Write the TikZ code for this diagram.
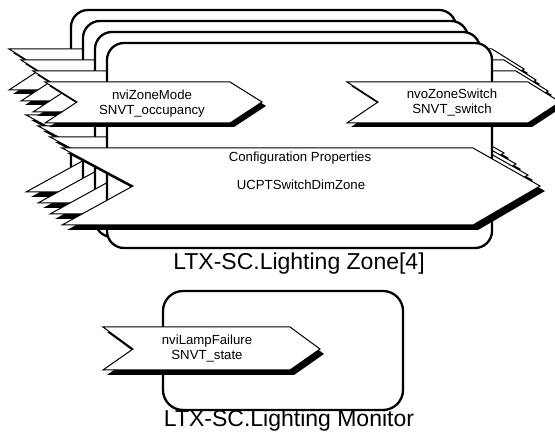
\documentclass[tikz,border=0pt]{standalone}
\usepackage{fontspec}
\setmainfont{Liberation Sans}
\begin{document}
\begin{tikzpicture}[x=1pt,y=-1pt,
  zonebox/.style={draw, line width=2.3pt, rounded corners=17pt, fill=white},
  nvshape/.style={draw, line width=1pt, fill=white, line join=miter},
  nvshadow/.style={fill=black},
  nvtext/.style={font=\fontsize{13.2}{14.5}\selectfont, align=center, inner sep=0pt},
  biglabel/.style={font=\fontsize{23}{26}\selectfont, inner sep=0pt}]
\useasboundingbox (0,0) rectangle (555,438);
\clip (0,0) rectangle (555,438);
% stacked zone blocks, back to front
\foreach \k in {3,2,1,0}{
  \begin{scope}[shift={(-12*\k,-11*\k)}]
    \draw[zonebox] (107,43) rectangle (492,248);
    % input
    \fill[nvshadow,shift={(4,4)}] (45,82) -- (230,82) -- (262,102) -- (230,123) -- (45,123) -- (77,102) -- cycle;
    \draw[nvshape] (45,82) -- (230,82) -- (262,102) -- (230,123) -- (45,123) -- (77,102) -- cycle;
    % output
    \fill[nvshadow,shift={(4,4)}] (347,82) -- (528,82) -- (560,102) -- (528,123) -- (347,123) -- (378,102) -- cycle;
    \draw[nvshape] (347,82) -- (528,82) -- (560,102) -- (528,123) -- (347,123) -- (378,102) -- cycle;
    % configuration
    \fill[nvshadow,shift={(5,5)}] (62,148) -- (473,148) -- (540,186) -- (473,225) -- (62,225) -- (133,186) -- cycle;
    \draw[nvshape] (62,148) -- (473,148) -- (540,186) -- (473,225) -- (62,225) -- (133,186) -- cycle;
  \end{scope}
}
\node[nvtext] (inzone) at (152,103.5) {nviZoneMode\\SNVT\_occupancy};
\node[nvtext] (outzone) at (452,102.5) {nvoZoneSwitch\\SNVT\_switch};
\node[nvtext] (cfgtitle) at (300,158) {Configuration Properties};
\node[nvtext] (cfgname) at (301,185) {UCPTSwitchDimZone};
\node[biglabel] (zonelabel) at (299,264) {LTX-SC.Lighting Zone[4]};
% lighting monitor
\draw[zonebox, rounded corners=20pt] (163,291) rectangle (403,410);
\fill[nvshadow,shift={(4,5)}] (103,327) -- (290,327) -- (320,349) -- (290,370) -- (103,370) -- (133,349) -- cycle;
\draw[nvshape] (103,327) -- (290,327) -- (320,349) -- (290,370) -- (103,370) -- (133,349) -- cycle;
\node[nvtext] (lampin) at (207,348.5) {nviLampFailure\\SNVT\_state};
\node[biglabel] (monlabel) at (289,421) {LTX-SC.Lighting Monitor};
\end{tikzpicture}
\end{document}
